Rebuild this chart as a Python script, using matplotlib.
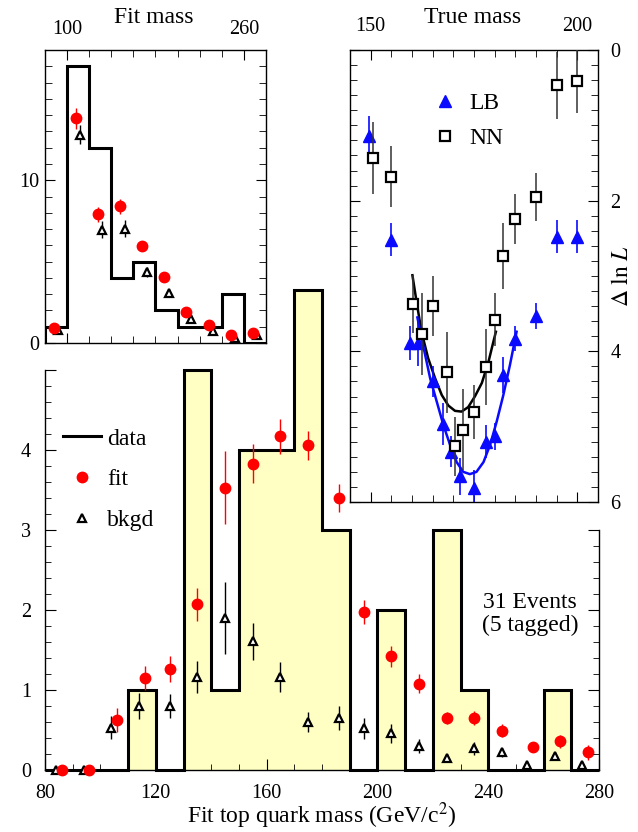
import numpy as np
import matplotlib.pyplot as plt
from matplotlib.ticker import MultipleLocator, FixedLocator
from matplotlib.lines import Line2D

plt.rcParams['font.family'] = ['Liberation Serif', 'DejaVu Serif']
plt.rcParams['mathtext.fontset'] = 'stix'
plt.rcParams['font.size'] = 14.5
plt.rcParams['axes.linewidth'] = 1.0

YELLOW = '#ffffc4'
RED = '#ff0000'
BLUE = '#0a0aff'

# main histogram: fit top quark mass, 10 GeV bins
bin_edges = [80, 90, 100, 110, 120, 130, 140, 150, 160, 170, 180,
             190, 200, 210, 220, 230, 240, 250, 260, 270, 280]
data_counts = [0, 0, 0, 1, 0, 5, 1, 4, 4, 6, 3, 0, 2, 0, 3, 1, 0, 0, 1, 0]

fit_x = [86, 96, 106, 116, 125, 135, 145, 155, 165, 175,
         186, 195, 205, 215, 225, 235, 245, 256, 266, 276]
fit_y = [0, 0, 0.62, 1.15, 1.26, 2.07, 3.53, 3.83, 4.17, 4.06,
         3.40, 1.98, 1.42, 1.08, 0.65, 0.65, 0.49, 0.29, 0.36, 0.22]
fit_err = [0, 0, 0.15, 0.15, 0.16, 0.21, 0.46, 0.24, 0.22, 0.18,
           0.18, 0.15, 0.13, 0.12, 0.08, 0.09, 0.08, 0.05, 0.08, 0.09]

bkgd_x = [84, 94, 104, 114, 125, 135, 145, 155, 165, 175,
          186, 195, 205, 215, 225, 235, 245, 254, 264, 274]
bkgd_y = [0, 0, 0.53, 0.80, 0.80, 1.16, 1.90, 1.61, 1.16, 0.60,
          0.65, 0.52, 0.46, 0.30, 0.15, 0.27, 0.22, 0.06, 0.17, 0.06]
bkgd_err = [0, 0, 0.14, 0.16, 0.15, 0.20, 0.45, 0.23, 0.19, 0.13,
            0.15, 0.13, 0.12, 0.09, 0.05, 0.08, 0.06, 0.03, 0.05, 0.03]

# inset: fit mass, 20 GeV bins
fm_edges = [80, 100, 120, 140, 160, 180, 200, 220, 240, 260, 280]
fm_counts = [1, 17, 12, 4, 5, 2, 1, 1, 3, 0]
fm_fit_x = [88, 108, 128, 148, 168, 188, 208, 228, 248, 268]
fm_fit_y = [0.94, 13.8, 7.9, 8.4, 5.94, 4.06, 1.9, 1.09, 0.51, 0.61]
fm_fit_err = [0.15, 0.66, 0.45, 0.45, 0.3, 0.25, 0.2, 0.15, 0.1, 0.1]
fm_bkgd_x = [92, 112, 132, 152, 172, 192, 212, 232, 252, 272]
fm_bkgd_y = [0.82, 12.8, 6.97, 7.03, 4.36, 3.07, 1.5, 0.74, 0.31, 0.47]
fm_bkgd_err = [0.1, 0.6, 0.5, 0.5, 0.3, 0.25, 0.2, 0.15, 0.1, 0.1]

# inset: likelihood vs true mass
lb_x = [149.5, 155, 159.5, 161.5, 165, 167.5, 169.5, 171.5, 175, 178, 180, 182, 185, 190, 195, 200]
lb_y = [1.14, 2.52, 3.89, 3.89, 4.40, 4.96, 5.33, 5.66, 5.82, 5.20, 5.13, 4.31, 3.83, 3.53, 2.48, 2.48]
lb_err = [0.27, 0.22, 0.22, 0.31, 0.2, 0.28, 0.2, 0.25, 0.25, 0.22, 0.18, 0.24, 0.16, 0.17, 0.22, 0.22]

nn_x = [150.5, 155, 160.3, 162.3, 165, 168.4, 170.4, 172.4, 175, 178, 180, 182, 185, 190, 195, 200]
nn_y = [1.43, 1.68, 3.37, 3.77, 3.40, 4.28, 5.26, 5.04, 4.81, 4.21, 3.58, 2.73, 2.24, 1.95, 0.47, 0.41]
nn_err = [0.48, 0.41, 0.38, 0.55, 0.4, 0.54, 0.39, 0.54, 0.36, 0.5, 0.35, 0.44, 0.33, 0.32, 0.45, 0.42]

nn_curve_x = [160.1, 161.1, 162.3, 163.9, 165.6, 167.2, 168.8, 170.4, 172.0, 173.6,
              175.2, 176.9, 178.5, 179.7, 180.3]
nn_curve_y = [2.99, 3.34, 3.74, 4.09, 4.36, 4.58, 4.72, 4.79, 4.80, 4.74,
              4.60, 4.42, 4.14, 3.87, 3.74]
lb_curve_x = [161.3, 162.8, 164.4, 166.0, 167.6, 169.2, 170.8, 172.4, 174.0, 175.6,
              177.3, 178.9, 180.5, 182.1, 183.7, 185.3]
lb_curve_y = [3.55, 3.95, 4.36, 4.67, 4.98, 5.24, 5.47, 5.60, 5.63, 5.60,
              5.47, 5.24, 4.93, 4.58, 4.18, 3.74]


def noclip(cont):
    for a in cont.get_children():
        a.set_clip_on(False)


W, H = 638, 832
fig = plt.figure(figsize=(W / 100, H / 100), dpi=100)

# ---------- main plot ----------
ax = fig.add_axes([45 / W, (H - 770) / H, 554 / W, 400 / H])
ax.stairs(data_counts, bin_edges, fill=True, color=YELLOW, clip_on=False, zorder=1)
ax.stairs(data_counts, bin_edges, color='black', lw=2.2, clip_on=False, zorder=2)
c = ax.errorbar(bkgd_x, bkgd_y, yerr=bkgd_err, fmt='^', mfc='white', mec='black',
                mew=1.6, ms=6, ecolor='black', elinewidth=1, capsize=0, zorder=4)
noclip(c)
c = ax.errorbar(fit_x, fit_y, yerr=fit_err, fmt='o', color=RED, ms=7.5,
                elinewidth=1, capsize=0, zorder=5)
noclip(c)

ax.set_xlim(80, 280)
ax.set_ylim(0, 5)
ax.xaxis.set_major_locator(MultipleLocator(40))
ax.xaxis.set_minor_locator(MultipleLocator(10))
ax.set_yticks([0, 1, 2, 3, 4, 5], ['0', '1', '2', '3', '4', ''])
ax.yaxis.set_minor_locator(MultipleLocator(0.2))
ax.tick_params(which='both', direction='in', top=False, right=False)
ax.tick_params(which='major', length=8, pad=10)
ax.tick_params(which='minor', length=4)
ax.spines['top'].set_visible(False)
ax.spines['right'].set_visible(False)
ax.set_xlabel('Fit top quark mass (GeV/c$^2$)', fontsize=17, labelpad=-2)

axr = ax.twinx()
axr.set_ylim(0, 5)
axr.yaxis.set_major_locator(FixedLocator([0, 1, 2, 3]))
axr.yaxis.set_minor_locator(FixedLocator([0.2, 0.4, 0.6, 0.8, 1.2, 1.4, 1.6, 1.8,
                                          2.2, 2.4, 2.6, 2.8]))
axr.set_yticklabels([])
axr.tick_params(which='both', direction='in')
axr.tick_params(which='major', length=8)
axr.tick_params(which='minor', length=4)
for s in ['top', 'left', 'bottom']:
    axr.spines[s].set_visible(False)
axr.spines['right'].set_bounds(0, 3)

handles = [Line2D([], [], color='black', lw=2.2),
           Line2D([], [], marker='o', ls='none', color=RED, ms=7.5),
           Line2D([], [], marker='^', ls='none', mfc='white', mec='black', mew=1.6, ms=6)]
ax.legend(handles, ['data', 'fit', 'bkgd'], loc='upper left', bbox_to_anchor=(0.032, 0.855),
          frameon=False, fontsize=17, handlelength=1.64, handletextpad=0.25,
          labelspacing=0.82, borderpad=0, borderaxespad=0)

ax.text(0.875, 0.39, '31 Events\n(5 tagged)', transform=ax.transAxes, fontsize=17,
        ha='center', va='center', linespacing=1.15)

# ---------- inset: fit mass ----------
ax1 = fig.add_axes([45 / W, (H - 343) / H, 221 / W, 293 / H])
ax1.stairs(fm_counts, fm_edges, color='black', lw=2.2, zorder=2)
ax1.errorbar(fm_bkgd_x, fm_bkgd_y, yerr=fm_bkgd_err, fmt='^', mfc='white', mec='black',
             mew=1.6, ms=6, ecolor='black', elinewidth=1, capsize=0, zorder=4)
ax1.errorbar(fm_fit_x, fm_fit_y, yerr=fm_fit_err, fmt='o', color=RED, ms=7.5,
             elinewidth=1, capsize=0, zorder=5)
ax1.set_xlim(80, 280)
ax1.set_ylim(0, 18)
ax1.xaxis.set_major_locator(FixedLocator([100, 260]))
ax1.xaxis.set_minor_locator(MultipleLocator(20))
ax1.set_yticks([0, 10])
ax1.yaxis.set_minor_locator(MultipleLocator(1))
ax1.tick_params(which='both', direction='in', top=True, bottom=True, left=True, right=True,
                labeltop=True, labelbottom=False)
ax1.tick_params(which='major', length=7)
ax1.tick_params(which='minor', length=5)
ax1.tick_params(axis='x', pad=8)
ax1.tick_params(axis='y', pad=4)
ax1.text(0.49, 1.11, 'Fit mass', transform=ax1.transAxes, fontsize=17,
         ha='center', va='center')

# ---------- inset: likelihood vs true mass ----------
ax2 = fig.add_axes([350 / W, (H - 502) / H, 248 / W, 452 / H])
ax2.plot(nn_curve_x, nn_curve_y, color='black', lw=1.8, zorder=2)
ax2.plot(lb_curve_x, lb_curve_y, color=BLUE, lw=1.8, zorder=2)
ax2.errorbar(lb_x, lb_y, yerr=lb_err, fmt='^', color=BLUE, ms=8, elinewidth=1.2,
             capsize=0, zorder=3)
ax2.errorbar(nn_x, nn_y, yerr=nn_err, fmt='s', mfc='white', mec='black', mew=1.6, ms=7,
             ecolor='#333333', elinewidth=1.1, capsize=0, zorder=4)
ax2.set_xlim(145, 205)
ax2.set_ylim(6, 0)
ax2.xaxis.set_major_locator(FixedLocator([150, 200]))
ax2.xaxis.set_minor_locator(MultipleLocator(5))
ax2.set_yticks([0, 2, 4, 6])
ax2.yaxis.set_minor_locator(MultipleLocator(0.2))
ax2.tick_params(which='both', direction='in', top=True, bottom=True, left=True, right=True,
                labeltop=True, labelbottom=False, labelleft=False, labelright=True)
ax2.tick_params(which='major', length=7)
ax2.tick_params(which='minor', length=5)
ax2.tick_params(axis='x', pad=10)
ax2.tick_params(axis='y', pad=9)
ax2.text(0.496, 1.073, 'True mass', transform=ax2.transAxes, fontsize=17,
         ha='center', va='center')
ax2.text(1.097, 0.5, r'$\Delta\ \mathrm{ln}\ L$', transform=ax2.transAxes, fontsize=17,
         rotation=90, ha='center', va='center')

h2 = [Line2D([], [], marker='^', ls='none', color=BLUE, ms=8),
      Line2D([], [], marker='s', ls='none', mfc='white', mec='black', mew=1.6, ms=7)]
ax2.legend(h2, ['LB', 'NN'], loc='upper left', bbox_to_anchor=(0.335, 0.905),
           frameon=False, fontsize=17, handlelength=1.0, handletextpad=0.55,
           labelspacing=0.56, borderpad=0, borderaxespad=0)

fig.savefig('out.png', dpi=100)
